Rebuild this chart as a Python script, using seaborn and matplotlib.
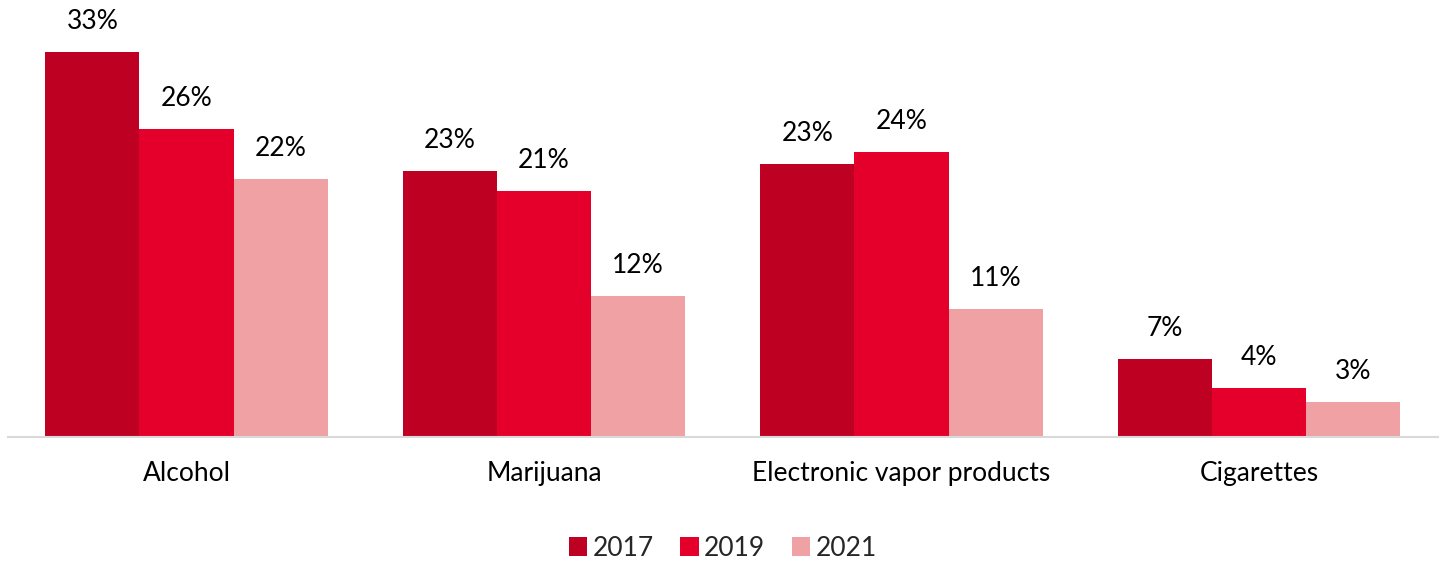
import matplotlib
matplotlib.use("Agg")
import matplotlib.pyplot as plt
import seaborn as sns
import pandas as pd

# Share of students reporting use, by substance and survey year
categories = ["Alcohol", "Marijuana", "Electronic vapor products", "Cigarettes"]
years = ["2017", "2019", "2021"]
values_2017 = [33.0, 22.8, 23.4, 6.7]
values_2019 = [26.4, 21.1, 24.4, 4.2]
values_2021 = [22.1, 12.1, 11.0, 3.0]
colors = ["#BE0023", "#E4002B", "#EFA1A3"]

df = pd.DataFrame({
    "category": categories * 3,
    "year": [y for y in years for _ in categories],
    "value": values_2017 + values_2019 + values_2021,
})

sns.set_theme(style="white")
plt.rcParams["font.family"] = ["Lato", "DejaVu Sans"]

fig = plt.figure(figsize=(14.46, 5.61), dpi=100)
ax = fig.add_axes([0.00536, 0.2210, 0.98894, 0.7282])

sns.barplot(data=df, x="category", y="value", hue="year", order=categories,
            hue_order=years, palette=colors, width=0.79, saturation=1,
            linewidth=0, ax=ax, legend=True)

for container in ax.containers:
    ax.bar_label(container, labels=[f"{v:.0f}%" for v in container.datavalues],
                 padding=13, fontsize=19, color="#000000")

ax.set_xlim(-0.5, 3.5)
ax.set_ylim(0, 35)
ax.set_xlabel("")
ax.set_ylabel("")
ax.set_yticks([])
ax.tick_params(axis="x", length=0, labelsize=19, pad=17, colors="#000000")
for s in ["top", "right", "left"]:
    ax.spines[s].set_visible(False)
ax.spines["bottom"].set_color("#D9D9D9")
ax.spines["bottom"].set_linewidth(1.5)

handles, labels = ax.get_legend_handles_labels()
ax.legend(handles, labels, loc="center", bbox_to_anchor=(0.5, -0.272),
          ncol=3, frameon=False, fontsize=19, handlelength=0.7,
          handleheight=0.7, handletextpad=0.2, columnspacing=1.0)

fig.savefig("out.png", dpi=100)
